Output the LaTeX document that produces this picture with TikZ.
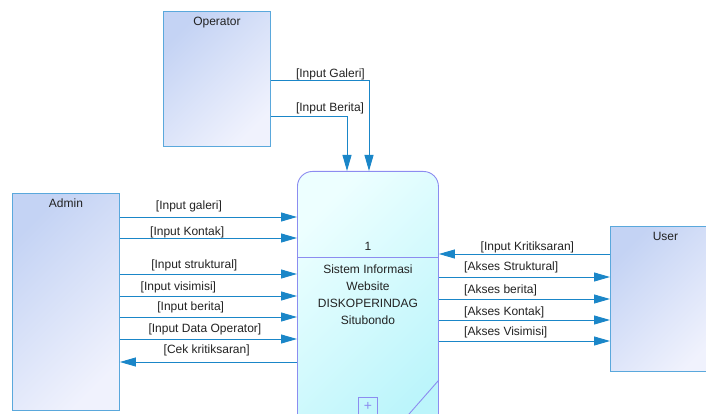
\documentclass[tikz,border=0pt]{standalone}
\usepackage{fontspec}
\setmainfont{Liberation Sans}
\usetikzlibrary{positioning, calc, arrows.meta}

\definecolor{flowblue}{HTML}{1A86C8}
\definecolor{entityline}{HTML}{5AA8DC}
\definecolor{entitydark}{HTML}{C4D3F4}
\definecolor{entitylight}{HTML}{F0F2FD}
\definecolor{procline}{HTML}{8C8CF0}
\definecolor{proclight}{HTML}{EDFFFF}
\definecolor{procdark}{HTML}{BCF5FB}
\definecolor{textgray}{HTML}{222222}

\begin{document}
\begin{tikzpicture}[x=1pt, y=-1pt,
  font=\fontsize{12}{17}\selectfont,
  entity/.style={rectangle, draw=entityline, line width=0.9pt, top color=entitydark, bottom color=entitylight, shading angle=45, anchor=north west, inner sep=0pt},
  entitylabel/.style={anchor=north, yshift=-2.5pt, text=textgray},
  process/.style={rectangle, rounded corners=15pt, draw=procline, line width=0.9pt, top color=proclight, bottom color=procdark, shading angle=45, anchor=north west, minimum width=141pt, minimum height=262pt, inner sep=0pt},
  procpart/.style={draw=procline, line width=0.9pt},
  flow/.style={-{Triangle[length=16pt, width=9pt]}, draw=flowblue, line width=0.9pt},
  lbl/.style={text=textgray, inner sep=0pt}
]
\useasboundingbox (0,0) rectangle (706,414);
\clip (0,0) rectangle (706,414);

% External entities
\node[entity, minimum width=107pt, minimum height=135pt, label={[entitylabel]north:Operator}] (operator) at (163,11) {};
\node[entity, minimum width=107pt, minimum height=217pt, label={[entitylabel]north:Admin}] (admin) at (12,193) {};
\node[entity, minimum width=110pt, minimum height=145pt, label={[entitylabel]north:User}] (user) at (610,226) {};

% Process
\node[process] (proc) at (297,171) {};
\draw[procpart] ($(proc.north west)+(0,86)$) -- ($(proc.north east)+(0,86)$);
\node[text=textgray] (pnum) at ($(proc.north)+(0,75)$) {1};
\node[text=textgray, align=center] (pname) at ($(proc.north)+(0,124)$) {Sistem Informasi\\Website\\DISKOPERINDAG\\Situbondo};
\draw[procpart] ($(proc.north east)+(0,209)$) -- ($(proc.north east)+(-36,250)$);
\node[procpart, minimum size=19pt, inner sep=0pt, anchor=north, text=procline, font=\fontsize{14}{14}\selectfont] (pplus) at ($(proc.north)+(0,226)$) {+};

% Operator flows
\draw[flow] (operator.east |- 0,80) -| node[lbl, pos=0.126, above right=-0.1pt and 0pt] {[Input Galeri]} (proc.north -| 369,0);
\draw[flow] (operator.east |- 0,116) -| node[lbl, pos=0.162, above right=1.4pt and 0pt] {[Input Berita]} (proc.north -| 347,0);

% Admin flows
\draw[flow] (admin.east |- 0,217) -- node[lbl, pos=0.39, above=4.4pt] {[Input galeri]} (proc.west |- 0,217);
\draw[flow] (admin.east |- 0,238) -- node[lbl, pos=0.38, above=-0.6pt] {[Input Kontak]} (proc.west |- 0,238);
\draw[flow] (admin.east |- 0,274) -- node[lbl, pos=0.42, above=2.4pt] {[Input struktural]} (proc.west |- 0,274);
\draw[flow] (admin.east |- 0,296) -- node[lbl, pos=0.33, above=2.4pt] {[Input visimisi]} (proc.west |- 0,296);
\draw[flow] (admin.east |- 0,317) -- node[lbl, pos=0.40, above=3.4pt] {[Input berita]} (proc.west |- 0,317);
\draw[flow] (admin.east |- 0,339) -- node[lbl, pos=0.48, above=3.9pt] {[Input Data Operator]} (proc.west |- 0,339);
\draw[flow] (proc.west |- 0,362) -- node[lbl, pos=0.51, above=5.4pt] {[Cek kritiksaran]} (admin.east |- 0,362);

% User flows
\draw[flow] (user.west |- 0,254) -- node[lbl, pos=0.483, above=0.9pt] {[Input Kritiksaran]} (proc.east |- 0,254);
\draw[flow] (proc.east |- 0,277) -- node[lbl, pos=0.145, above right=3.4pt and 0pt] {[Akses Struktural]} (user.west |- 0,277);
\draw[flow] (proc.east |- 0,299) -- node[lbl, pos=0.145, above right=2.9pt and 0pt] {[Akses berita]} (user.west |- 0,299);
\draw[flow] (proc.east |- 0,320) -- node[lbl, pos=0.145, above right=1.9pt and 0pt] {[Akses Kontak]} (user.west |- 0,320);
\draw[flow] (proc.east |- 0,341) -- node[lbl, pos=0.145, above right=2.4pt and 0pt] {[Akses Visimisi]} (user.west |- 0,341);

\end{tikzpicture}
\end{document}
